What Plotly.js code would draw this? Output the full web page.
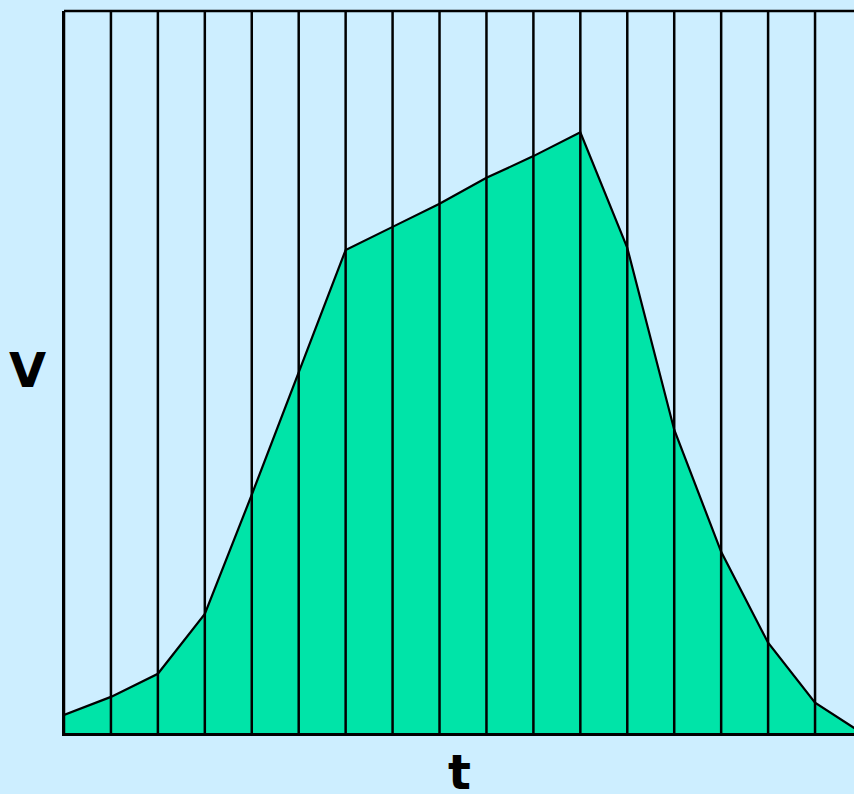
<!DOCTYPE html>
<html>
<head>
<meta charset="utf-8">
<script src="https://cdn.plot.ly/plotly-3.0.1.min.js"></script>
<style>html,body{margin:0;padding:0;background:#cdeeff;}#chart{width:854px;height:794px;}</style>
</head>
<body>
<div id="chart"></div>
<script>
// Time steps (interval index) and velocity values (percent of plot height)
var times = [0, 1, 2, 3, 4, 5, 6, 7, 8, 9, 10, 11, 12, 13, 14, 15, 16, 17];
var velocity = [2.5, 5.0, 8.2, 16.5, 33.0, 49.9, 66.9, 70.1, 73.3, 76.9, 79.9, 83.2, 67.2, 42.0, 25.1, 12.5, 4.2, 0];
var gridTimes = [0, 1, 2, 3, 4, 5, 6, 7, 8, 9, 10, 11, 12, 13, 14, 15, 16, 17];
var xLabel = 't';
var yLabel = 'V';

var bg = '#cdeeff';
var green = '#00e4a8';

var shapes = gridTimes.map(function (t) {
  return {type: 'line', xref: 'x', yref: 'paper', x0: t, x1: t, y0: 0, y1: 1,
          line: {color: '#000', width: 2.5}, layer: 'above'};
});
shapes.push({type: 'line', xref: 'paper', yref: 'paper', x0: 0, x1: 1, y0: 1, y1: 1,
             line: {color: '#000', width: 2.5}, layer: 'above'});

var trace = {
  x: times, y: velocity, type: 'scatter', mode: 'lines',
  fill: 'tozeroy', fillcolor: green,
  line: {color: '#000', width: 2.2},
  hoverinfo: 'none'
};

var layout = {
  width: 854, height: 794,
  paper_bgcolor: bg, plot_bgcolor: bg,
  margin: {l: 64, r: 0, t: 11, b: 61},
  showlegend: false,
  xaxis: {range: [0, 16.83], showgrid: false, zeroline: false, showticklabels: false, ticks: '',
          showline: true, linecolor: '#000', linewidth: 2.5, layer: 'above traces', fixedrange: true},
  yaxis: {range: [0, 100], showgrid: false, zeroline: false, showticklabels: false, ticks: '',
          showline: true, linecolor: '#000', linewidth: 2.5, layer: 'above traces', fixedrange: true},
  shapes: shapes,
  annotations: [
    {text: yLabel, xref: 'paper', yref: 'paper', x: -0.0456, y: 0.503, xanchor: 'center', yanchor: 'middle',
     showarrow: false, font: {family: 'DejaVu Sans', size: 48, color: '#000', weight: 'bold'}},
    {text: xLabel, xref: 'paper', yref: 'paper', x: 0.5, y: -0.054, xanchor: 'center', yanchor: 'middle',
     showarrow: false, font: {family: 'DejaVu Sans', size: 48, color: '#000', weight: 'bold'}}
  ]
};

Plotly.newPlot('chart', [trace], layout, {staticPlot: true, displayModeBar: false});
</script>
</body>
</html>
